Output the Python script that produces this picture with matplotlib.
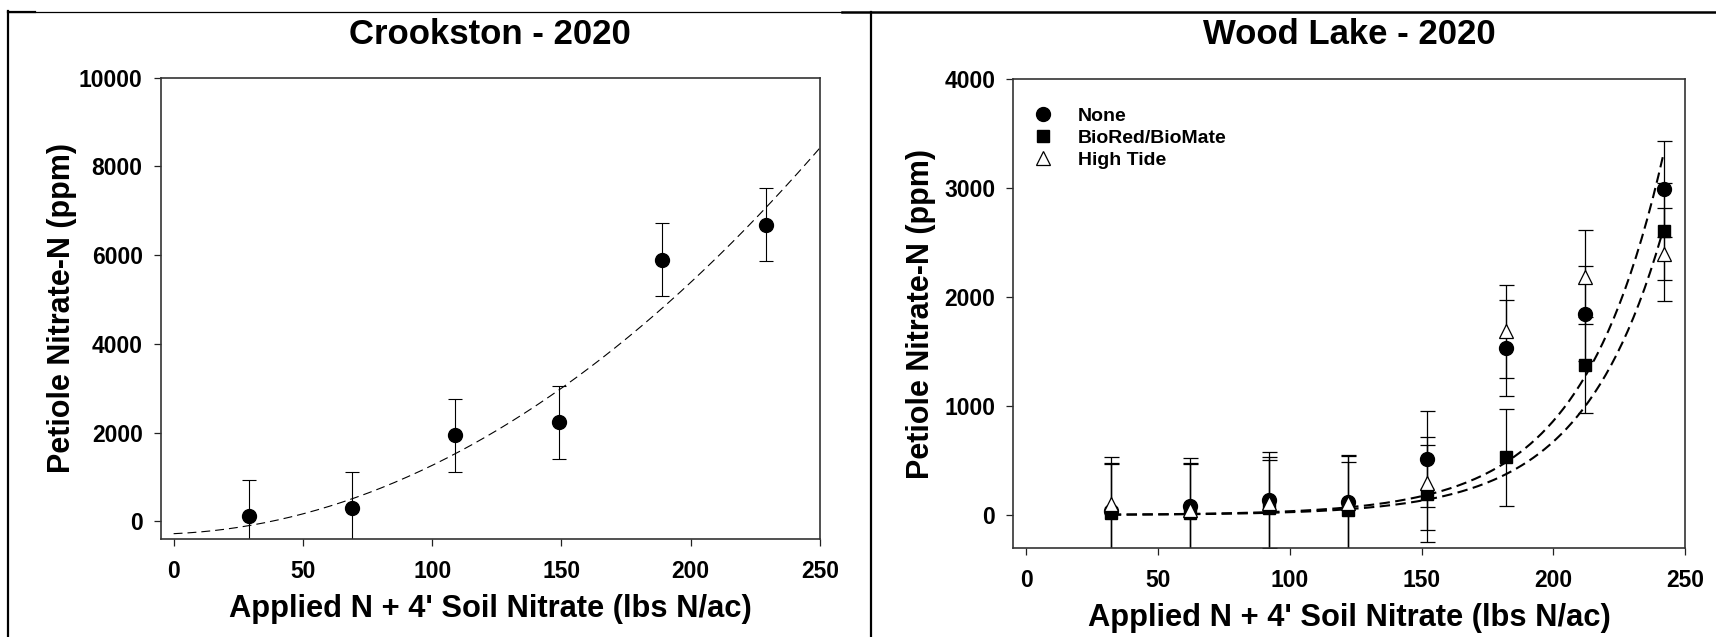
import numpy as np
import matplotlib
matplotlib.use("Agg")
import matplotlib.pyplot as plt
from matplotlib.lines import Line2D

plt.rcParams['font.family'] = ['Liberation Sans', 'DejaVu Sans']
plt.rcParams['font.weight'] = 'bold'

# Crookston - 2020
crk_n = [29, 69, 109, 149, 189, 229]
crk_no3 = [120, 300, 1940, 2230, 5900, 6690]
crk_se = [820, 820, 820, 820, 820, 820]
# quadratic fit: a + b*x + c*x^2
crk_fit = [-280, 2.47, 0.1293]

# Wood Lake - 2020
wl_n = [32, 62, 92, 122, 152, 182, 212, 242]
wl_none = [35, 86, 137, 115, 513, 1530, 1850, 2990]
wl_biored = [22, 20, 60, 46, 197, 532, 1377, 2605]
wl_hightide = [100, 48, 107, 113, 290, 1686, 2188, 2393]
wl_none_se = [440] * 8
wl_biored_se = [445] * 8
wl_hightide_se = [430] * 8
# exponential fits a*exp(b*x)
wl_fit_upper = [1.389, 0.03216]
wl_fit_lower = [1.0, 0.03256]

labels = ['None', 'BioRed/BioMate', 'High Tide']

W, H = 1716, 637
fig = plt.figure(figsize=(W / 100, H / 100), dpi=100)


def axes_px(l, t, r, b):
    return fig.add_axes([l / W, 1 - b / H, (r - l) / W, (b - t) / H])


def style(ax, yticks, ylim):
    ax.set_xlim(-5, 250)
    ax.set_ylim(*ylim)
    ax.set_xticks(np.arange(0, 251, 50))
    ax.set_yticks(yticks)
    for s in ax.spines.values():
        s.set_color('#333333')
        s.set_linewidth(1.2)
    ax.tick_params(axis='both', direction='out', length=5, width=0.9,
                   labelsize=16.5, color='#222222')
    ax.tick_params(axis='x', pad=10)
    ax.tick_params(axis='y', pad=8)
    for t in ax.get_xticklabels() + ax.get_yticklabels():
        t.set_fontweight('bold')


# left panel
ax1 = axes_px(160.7, 77.7, 820, 539)
style(ax1, np.arange(0, 10001, 2000), (-400, 10000))
xx = np.linspace(0, 250, 200)
ax1.plot(xx, crk_fit[0] + crk_fit[1] * xx + crk_fit[2] * xx ** 2,
         color='black', lw=0.8, dashes=(8, 4.5))
ax1.errorbar(crk_n, crk_no3, yerr=crk_se, fmt='none', ecolor='black',
             elinewidth=0.8, capsize=4.7, capthick=0.8)
ax1.plot(crk_n, crk_no3, 'o', color='black', ms=10, zorder=4)
ax1.set_xlabel("Applied N + 4' Soil Nitrate (lbs N/ac)", fontsize=22.2,
               fontweight='bold')
ax1.set_ylabel('Petiole Nitrate-N (ppm)', fontsize=22, fontweight='bold')
ax1.xaxis.set_label_coords(0.5, -0.151)
ax1.xaxis.label.set_va('center')
ax1.yaxis.set_label_coords(-0.150, 0.5)
ax1.yaxis.label.set_va('center')
ax1.text(0.5, 1.093, 'Crookston - 2020', transform=ax1.transAxes,
         ha='center', va='center', fontsize=25, fontweight='bold')

# right panel
ax2 = axes_px(1013.3, 79.3, 1685, 547.7)
style(ax2, np.arange(0, 4001, 1000), (-300, 4000))
xx = np.linspace(wl_n[0], wl_n[-1], 200)
for a, b in (wl_fit_upper, wl_fit_lower):
    ax2.plot(xx, a * np.exp(b * xx), color='black', lw=1.5, dashes=(5, 2.6))
series = [(wl_none, wl_none_se, dict(marker='o', ms=10, mfc='black', mec='black')),
          (wl_biored, wl_biored_se, dict(marker='s', ms=9, mfc='black', mec='black')),
          (wl_hightide, wl_hightide_se, dict(marker='^', ms=9.5, mfc='white', mec='black', mew=0.9))]
handles = []
for i, (y, e, mk) in enumerate(series):
    ax2.errorbar(wl_n, y, yerr=e, fmt='none', ecolor='black',
                 elinewidth=0.9, capsize=5.4, capthick=0.9)
    h, = ax2.plot(wl_n, y, ls='none', zorder=4 + i, **mk)
    handles.append(h)
ax2.legend(handles, labels, loc='upper left', bbox_to_anchor=(0.03, 0.94),
           frameon=False, handlelength=1.0, handletextpad=1.3,
           labelspacing=0.22, borderpad=0, borderaxespad=0,
           prop={'weight': 'bold', 'size': 14})
ax2.set_xlabel("Applied N + 4' Soil Nitrate (lbs N/ac)", fontsize=22.2,
               fontweight='bold')
ax2.set_ylabel('Petiole Nitrate-N (ppm)', fontsize=22, fontweight='bold')
ax2.xaxis.set_label_coords(0.5, -0.15)
ax2.xaxis.label.set_va('center')
ax2.yaxis.set_label_coords(-0.138, 0.5)
ax2.yaxis.label.set_va('center')
ax2.text(0.5, 1.0946, 'Wood Lake - 2020', transform=ax2.transAxes,
         ha='center', va='center', fontsize=25, fontweight='bold')

# panel frame lines (pixel positions)
def fig_line(x0, y0, x1, y1, lw):
    fig.add_artist(Line2D([x0 / W, x1 / W], [1 - y0 / H, 1 - y1 / H],
                          transform=fig.transFigure, color='black', lw=lw))


fig_line(8.3, 11.5, 842, 11.5, 0.9)
fig_line(8.3, 12, 35, 12, 1.6)
fig_line(842, 12, W, 12, 1.8)
fig_line(8.3, 11, 8.3, H, 1.6)
fig_line(871, 12, 871, H, 1.6)

fig.savefig('out.png', dpi=100)
